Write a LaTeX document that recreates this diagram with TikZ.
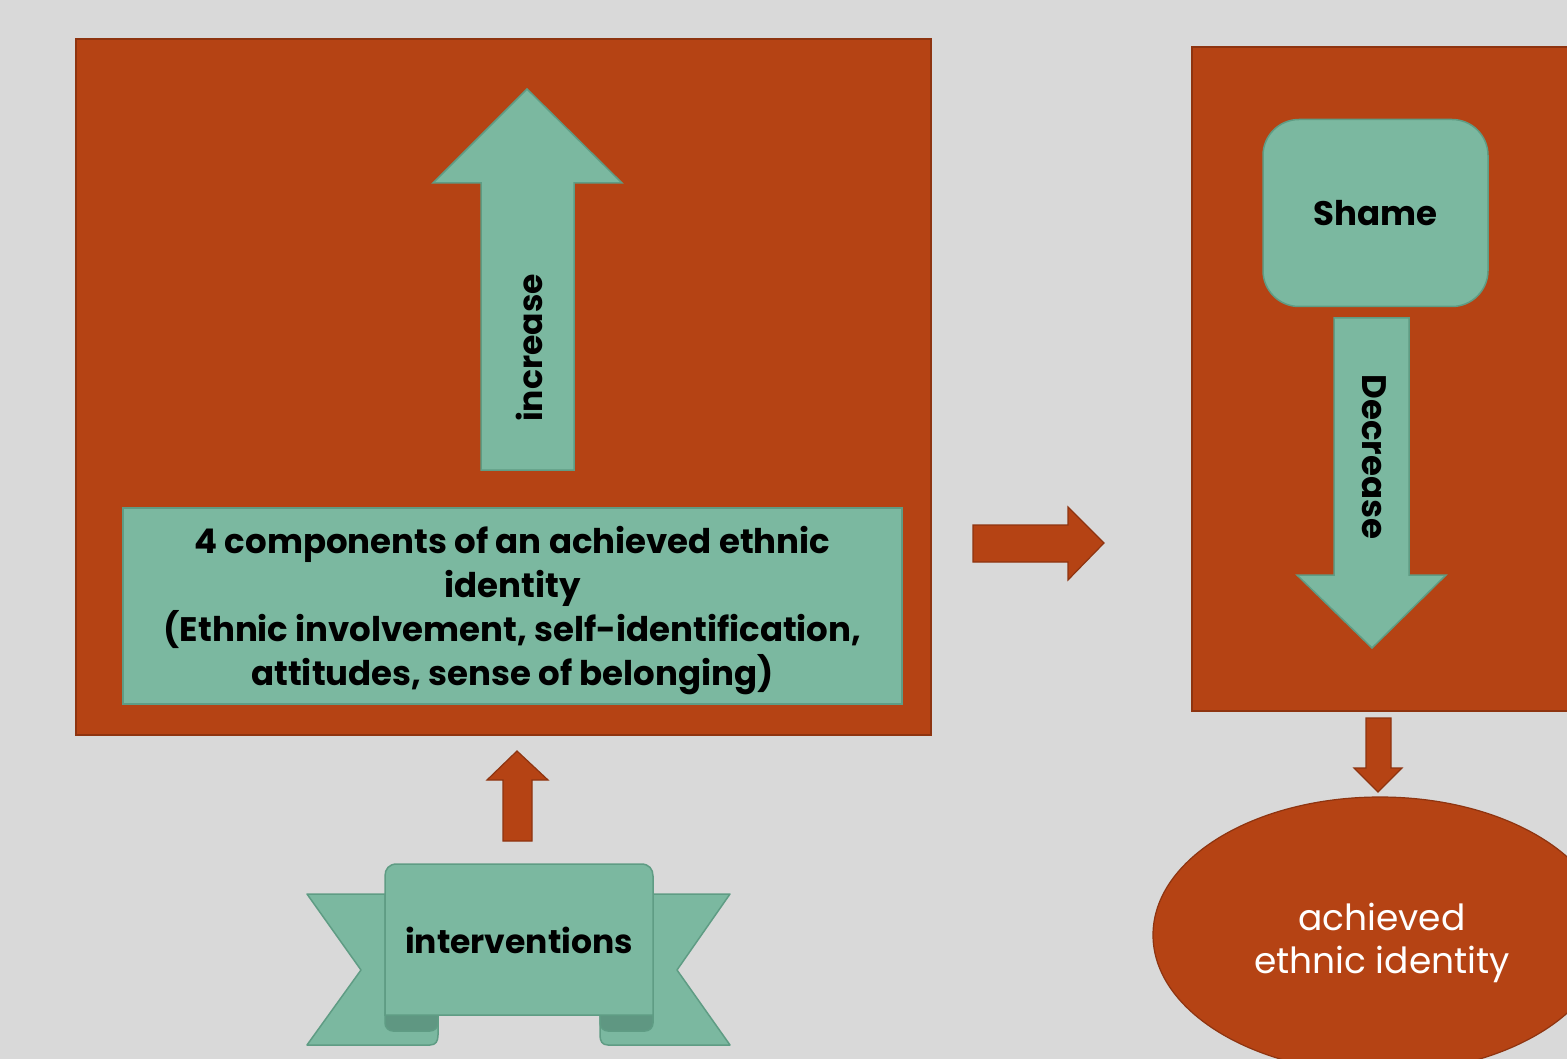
\documentclass[tikz,border=0pt]{standalone}
\usepackage{fontspec}
\setmainfont{Poppins}
\usetikzlibrary{shapes.geometric}
\definecolor{bg}{HTML}{D9D9D9}
\definecolor{rust}{HTML}{B54314}
\definecolor{rustline}{HTML}{8E3410}
\definecolor{teal}{HTML}{7BB8A0}
\definecolor{tealline}{HTML}{5F9C84}
\definecolor{tealdark}{HTML}{5F9782}
\tikzset{
  panel/.style={draw=rustline, fill=rust, line width=1.2pt, inner sep=0pt},
  tealshape/.style={draw=tealline, fill=teal, line width=1.5pt},
  rustarrow/.style={draw=rustline, fill=rust, line width=1.2pt, line join=miter},
  lbl/.style={text=black, font=\bfseries},
}
\begin{document}
\begin{tikzpicture}[x=1pt,y=-1pt]
\clip (0,0) rectangle (1567,1059);
\fill[bg] (0,0) rectangle (1567,1059);
\useasboundingbox (0,0) rectangle (1567,1059);

% left panel
\node[panel, minimum width=855pt, minimum height=696pt] (lp) at (503.5,387) {};
% right panel
\node[panel, minimum width=420pt, minimum height=664pt] (rp) at (1402,379) {};

% increase arrow
\draw[tealshape] (481,470) -- (481,183) -- (433,183) -- (527,89) -- (622,183) -- (574,183) -- (574,470) -- cycle;
\node[lbl, rotate=90, font=\bfseries\fontsize{33}{40}\selectfont] (inc) at (529,348) {increase};

% components box
\node[tealshape, minimum width=779pt, minimum height=196pt] (comp) at (512.5,606) {};
\node[align=center, font=\bfseries\fontsize{34}{44}\selectfont] (comptext) at (512.5,611)
  {4 components of an achieved ethnic\\identity\\(Ethnic involvement, self-identification,\\attitudes, sense of belonging)};

% right arrow between panels
\draw[rustarrow] (973,525) -- (1068,525) -- (1068,507) -- (1104,543) -- (1068,580) -- (1068,562) -- (973,562) -- cycle;

% small up arrow
\draw[rustarrow] (503,841) -- (503,780) -- (487,780) -- (517,751) -- (548,780) -- (532,780) -- (532,841) -- cycle;

% Shame
\node[tealshape, rounded corners=36pt, minimum width=225pt, minimum height=187pt,
  font=\bfseries\fontsize{34}{40}\selectfont] (shame) at (1375.5,213) {Shame};

% Decrease arrow
\draw[tealshape] (1334,318) -- (1409,318) -- (1409,575) -- (1446,575) -- (1372,648) -- (1297,575) -- (1334,575) -- cycle;
\node[lbl, rotate=-90, font=\bfseries\fontsize{34}{40}\selectfont] (dec) at (1374,457) {Decrease};

% small down arrow
\draw[rustarrow] (1366,718) -- (1391,718) -- (1391,768) -- (1402,768) -- (1378,792) -- (1354,768) -- (1366,768) -- cycle;

% ellipse
\node[ellipse, draw=rustline, fill=rust, line width=1.2pt, minimum width=454pt, minimum height=276pt] (aei) at (1380,935) {};
\node[text=white, align=center, font=\fontsize{36}{43}\selectfont] (aeitext) at (1382,943) {achieved\\ethnic identity};

% banner: tails
\draw[tealshape, line join=round] (385,894) -- (307,894) -- (361,970) -- (307,1045) -- (430,1045)
  .. controls (436,1045) and (438,1041) .. (438,1035) -- (438,1015) -- (385,1015) -- cycle;
\draw[tealshape, line join=round] (653,894) -- (730,894) -- (677,970) -- (730,1045) -- (608,1045)
  .. controls (602,1045) and (600,1041) .. (600,1035) -- (600,1015) -- (653,1015) -- cycle;
% curls
\draw[draw=tealline, fill=tealdark, line width=1.5pt, rounded corners=8pt] (385,1006) rectangle (438,1031);
\draw[draw=tealline, fill=tealdark, line width=1.5pt, rounded corners=8pt] (600,1006) rectangle (653,1031);
% main banner panel
\draw[tealshape] (385,1015) -- (385,876) .. controls (385,869) and (389,864) .. (397,864) -- (641,864)
  .. controls (649,864) and (653,869) .. (653,876) -- (653,1015) -- cycle;
\node[lbl, font=\bfseries\fontsize{33}{40}\selectfont] (interv) at (519,940) {interventions};
\end{tikzpicture}
\end{document}
